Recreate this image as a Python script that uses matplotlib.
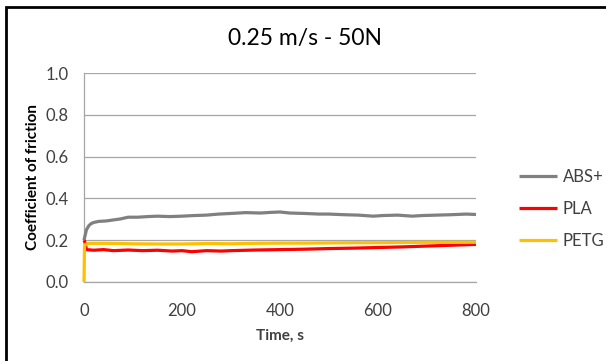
import matplotlib
matplotlib.use("Agg")
import matplotlib.pyplot as plt
from matplotlib.patches import Rectangle

plt.rcParams['font.family'] = ['Lato', 'DejaVu Sans']

# data (time in s, coefficient of friction)
abs_t = [0, 2, 5, 10, 15, 20, 30, 45, 60, 75, 90, 110, 130, 150, 175, 200, 225, 250,
         275, 300, 330, 360, 380, 400, 420, 450, 480, 500, 530, 560, 590, 610, 640,
         670, 690, 720, 750, 780, 800]
abs_mu = [0.20, 0.22, 0.25, 0.27, 0.28, 0.285, 0.29, 0.292, 0.297, 0.302, 0.31, 0.31,
          0.313, 0.315, 0.313, 0.315, 0.318, 0.32, 0.325, 0.328, 0.332, 0.33, 0.333,
          0.335, 0.33, 0.328, 0.325, 0.325, 0.322, 0.32, 0.315, 0.318, 0.32, 0.315,
          0.318, 0.32, 0.322, 0.325, 0.323]

pla_t = [0, 2, 5, 20, 40, 60, 90, 120, 150, 180, 200, 220, 250, 280, 300, 350, 400,
         450, 500, 550, 600, 650, 700, 750, 800]
pla_mu = [0.20, 0.19, 0.155, 0.152, 0.155, 0.15, 0.153, 0.15, 0.152, 0.148, 0.15,
          0.145, 0.15, 0.148, 0.15, 0.153, 0.155, 0.157, 0.16, 0.162, 0.165, 0.168,
          0.172, 0.176, 0.18]

petg_t = [0, 1, 3, 10, 50, 100, 150, 200, 250, 300, 350, 400, 450, 500, 550, 600,
          650, 700, 750, 800]
petg_mu = [0.0, 0.17, 0.18, 0.185, 0.185, 0.183, 0.182, 0.182, 0.184, 0.183, 0.185,
           0.186, 0.186, 0.187, 0.188, 0.188, 0.189, 0.19, 0.19, 0.19]

series = [("ABS+", abs_t, abs_mu, "#808080"),
          ("PLA", pla_t, pla_mu, "#ff0000"),
          ("PETG", petg_t, petg_mu, "#ffc000")]

x_ticks = [0, 200, 400, 600, 800]
y_ticks = [0.0, 0.2, 0.4, 0.6, 0.8, 1.0]

fig = plt.figure(figsize=(6.06, 3.61), dpi=100)
ax = fig.add_axes([84 / 606, 1 - 282 / 361, 392 / 606, 209 / 361])

for name, t, mu, col in series:
    ax.plot(t, mu, color=col, lw=2.3, label=name, solid_capstyle='butt',
            zorder=3, clip_on=False)

ax.set_xlim(0, 800)
ax.set_ylim(0, 1.0)
ax.set_xticks(x_ticks)
ax.set_yticks(y_ticks)
ax.set_yticklabels([f"{v:.1f}" for v in y_ticks])
ax.tick_params(axis='y', length=0, labelsize=12, colors="#404040", pad=11)
ax.tick_params(axis='x', length=0, labelsize=12, colors="#404040", pad=15)
ax.grid(axis='y', color="#a6a6a6", lw=0.9)
ax.set_axisbelow(True)
for s in ("top", "right"):
    ax.spines[s].set_visible(False)
for s in ("left", "bottom"):
    ax.spines[s].set_color("#a6a6a6")
    ax.spines[s].set_linewidth(0.9)

ax.set_xlabel("Time, s", fontsize=11, fontweight='bold', color="#404040", labelpad=7)
ax.set_ylabel("Coefficient of friction", fontsize=11, fontweight='bold',
              color="#000000", labelpad=4)
fig.text(305 / 606, 1 - 39 / 361, "0.25 m/s - 50N", ha='center', va='center',
         fontsize=16.5, color="#000000")

ax.legend(loc='center left', bbox_to_anchor=(1.11, 0.35), frameon=False,
          fontsize=12, handlelength=2.3, handletextpad=0.3, labelspacing=0.95,
          labelcolor="#404040", borderaxespad=0, borderpad=0)

fig.patches.append(Rectangle((6 / 606, -0.01), 1.0, 1 - 7 / 361 + 0.01,
                             transform=fig.transFigure, fill=False,
                             edgecolor="black", lw=2))

fig.savefig("out.png", dpi=100)
